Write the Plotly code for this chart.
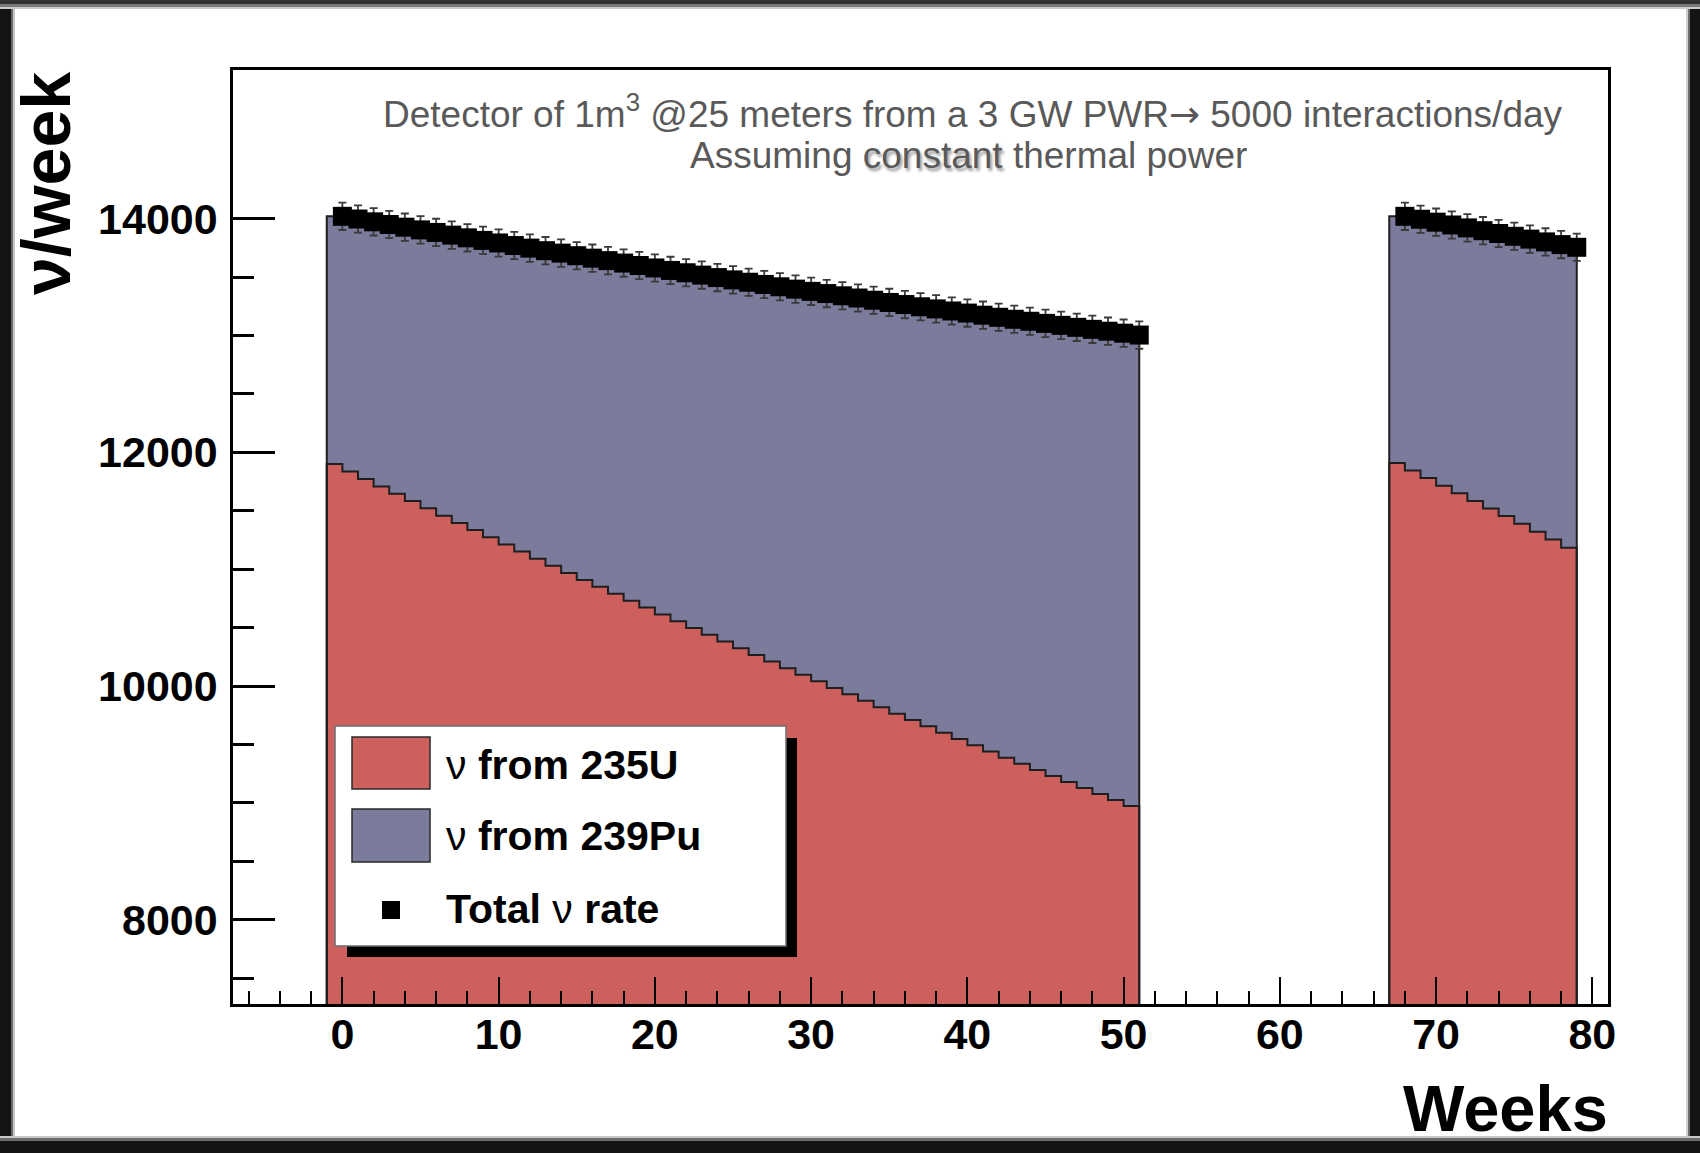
import plotly.graph_objects as go

# ---------------- data ----------------
# Week index of each total-rate point (= right edge of each weekly bin)
weeks_cycle1 = list(range(0, 52))
weeks_cycle2 = list(range(68, 80))

u235_cycle1 = [11900, 11836, 11773, 11709, 11646, 11583, 11521, 11458, 11396, 11335,
               11273, 11212, 11151, 11090, 11029, 10969, 10909, 10850, 10790, 10731,
               10672, 10613, 10555, 10497, 10439, 10381, 10324, 10267, 10210, 10153,
               10097, 10041, 9985, 9930, 9874, 9819, 9764, 9710, 9656, 9602,
               9548, 9495, 9441, 9388, 9336, 9283, 9231, 9179, 9128, 9076,
               9025, 8974]
pu239_cycle1 = [2120, 2161, 2200, 2241, 2281, 2321, 2361, 2401, 2440, 2479,
                2519, 2558, 2597, 2636, 2676, 2714, 2753, 2791, 2830, 2868,
                2906, 2944, 2982, 3020, 3057, 3095, 3132, 3170, 3207, 3244,
                3281, 3318, 3355, 3391, 3428, 3464, 3501, 3536, 3572, 3608,
                3644, 3679, 3715, 3751, 3786, 3821, 3856, 3891, 3925, 3961,
                3995, 4030]
u235_cycle2 = [11910, 11845, 11780, 11715, 11650, 11585, 11520, 11455, 11390, 11320,
               11255, 11185]
pu239_cycle2 = [2110, 2150, 2190, 2231, 2271, 2312, 2353, 2394, 2435, 2481,
                2523, 2570]
total_error = 117          # statistical error bar on the total rate

x_range = [-7, 81]
y_range = [7280, 15272]
y_minor_ticks = [7500, 8500, 9000, 9500, 10500, 11000, 11500, 12500, 13000, 13500]

RED = "#cd605d"
BLUE = "#7b7b9c"
FONT = "Liberation Sans, Arial, Helvetica, sans-serif"

# ---------------- figure geometry (pixels) ----------------
W, H = 1700, 1153
L, R, T, B = 233, 1608, 70, 1004


def px(x):
    return (x - L) / (R - L)


def py(y):
    return (B - y) / (B - T)


fig = go.Figure()

cycles = [(weeks_cycle1, u235_cycle1, pu239_cycle1),
          (weeks_cycle2, u235_cycle2, pu239_cycle2)]

for weeks, u, pu in cycles:
    centers = [w - 0.5 for w in weeks]
    fig.add_trace(go.Bar(x=centers, y=u, width=1, marker=dict(color=RED, line=dict(width=0)),
                         showlegend=False, hoverinfo="skip"))
    fig.add_trace(go.Bar(x=centers, y=pu, width=1, marker=dict(color=BLUE, line=dict(width=0)),
                         showlegend=False, hoverinfo="skip"))

for weeks, u, pu in cycles:
    totals = [a + b for a, b in zip(u, pu)]
    left_edges = [w - 1 for w in weeks]
    last_edge = weeks[-1]
    for vals in (totals, u):
        xs = [left_edges[0]] + left_edges + [last_edge, last_edge]
        ys = [y_range[0]] + vals + [vals[-1], y_range[0]]
        fig.add_trace(go.Scatter(x=xs, y=ys, mode="lines", line=dict(shape="hv", color="#1e1e1e", width=2),
                                 showlegend=False, hoverinfo="skip"))

for weeks, u, pu in cycles:
    totals = [a + b for a, b in zip(u, pu)]
    fig.add_trace(go.Scatter(
        x=weeks, y=totals, mode="markers",
        marker=dict(symbol="square", size=19, color="black", line=dict(width=0)),
        error_y=dict(type="constant", value=total_error, color="#3a3a3a", thickness=1.8, width=4),
        showlegend=False))

fig.update_layout(
    width=W, height=H,
    margin=dict(l=L, r=W - R, t=T, b=H - B, pad=0),
    paper_bgcolor="white", plot_bgcolor="white",
    barmode="stack", bargap=0,
    showlegend=False,
    font=dict(family=FONT, color="black"),
)

fig.update_xaxes(
    range=x_range, showgrid=False, zeroline=False,
    showline=True, mirror=True, linecolor="black", linewidth=2.5,
    tickmode="linear", tick0=0, dtick=10,
    ticks="inside", ticklen=27, tickwidth=2, tickcolor="black",
    minor=dict(tickmode="linear", tick0=0, dtick=2, ticks="inside", ticklen=13, tickwidth=2, tickcolor="black"),
    tickfont=dict(family=FONT, size=43, color="black", weight="bold"),
    ticklabelstandoff=-9,
    layer="above traces",
)
fig.update_yaxes(
    range=y_range, showgrid=False, zeroline=False,
    showline=True, mirror=True, linecolor="black", linewidth=2.5,
    tickmode="linear", tick0=0, dtick=2000, tickformat="d",
    ticks="inside", ticklen=42, tickwidth=2.5, tickcolor="black",
    minor=dict(tickmode="array", tickvals=y_minor_ticks, ticks="inside", ticklen=21, tickwidth=2.5, tickcolor="black"),
    tickfont=dict(family=FONT, size=43, color="black", weight="bold"),
    ticklabelstandoff=4,
    layer="above traces",
)

shapes = []


def rect(x0, y0, x1, y1, fill, line_color=None, lw=0, layer="above"):
    d = dict(type="rect", xref="paper", yref="paper",
             x0=px(x0), x1=px(x1), y0=py(y1), y1=py(y0),
             fillcolor=fill, layer=layer, line=dict(width=lw, color=line_color or fill))
    shapes.append(d)


# picture frame around the whole image
rect(0, 0, 11, H, "#141414")
rect(11, 0, 13, H, "#6a6a6a")
rect(13, 0, 15, H, "#c8c8c8")
rect(W - 10, 0, W, H, "#141414")
rect(W - 12, 0, W - 10, H, "#707070")
rect(W - 14, 0, W - 12, H, "#cfcfcf")
rect(0, 0, W, 4, "#333333")
rect(0, 4, W, 7, "#7a7a7a")
rect(0, 7, W, 9, "#cccccc")
rect(0, H - 12, W, H, "#141414")
rect(0, H - 15, W, H - 12, "#6a6a6a")
rect(0, H - 17, W, H - 15, "#c8c8c8")

# legend (drawn by hand to mimic the ROOT legend box)
rect(347, 738, 797, 957, "black")
rect(335, 726, 786, 946, "white", "#6e6e6e", 1.5)
rect(352, 737, 430, 789, RED, "#2a2a2a", 1.5)
rect(352, 809, 430, 862, BLUE, "#2a2a2a", 1.5)
rect(382, 901, 400, 919, "black")

fig.update_layout(shapes=shapes)

ann = []
ann.append(dict(text='Detector of 1m<sup>3</sup> @25 meters from a 3 GW PWR<span style="font-family:DejaVu Sans">→</span> 5000 interactions/day',
                x=px(973), y=py(112), xref="paper", yref="paper", xanchor="center", yanchor="middle",
                showarrow=False, font=dict(family=FONT, size=37, color="#595959")))
ann.append(dict(text='Assuming <span style="text-shadow: 2px 3px 3px #9a9a9a">constant</span> thermal power',
                x=px(968), y=py(155), xref="paper", yref="paper", xanchor="center", yanchor="middle",
                showarrow=False, font=dict(family=FONT, size=37, color="#595959")))
ann.append(dict(text="<b>ν/week</b>", textangle=-90,
                x=px(46), y=py(184), xref="paper", yref="paper", xanchor="center", yanchor="middle",
                showarrow=False, font=dict(family=FONT, size=68, color="black")))
ann.append(dict(text="<b>Weeks</b>",
                x=px(1610), y=py(1108), xref="paper", yref="paper", xanchor="right", yanchor="middle",
                showarrow=False, font=dict(family=FONT, size=65, color="black")))
legend_labels = ["ν <b>from 235U</b>", "ν <b>from 239Pu</b>", "<b>Total</b> ν <b>rate</b>"]
legend_y = [765, 836, 909]
for lab, yy in zip(legend_labels, legend_y):
    ann.append(dict(text=lab, x=px(444), y=py(yy), xref="paper", yref="paper",
                    xanchor="left", yanchor="middle", showarrow=False,
                    font=dict(family=FONT, size=41, color="black")))
fig.update_layout(annotations=ann)

fig.write_html("out.html")
